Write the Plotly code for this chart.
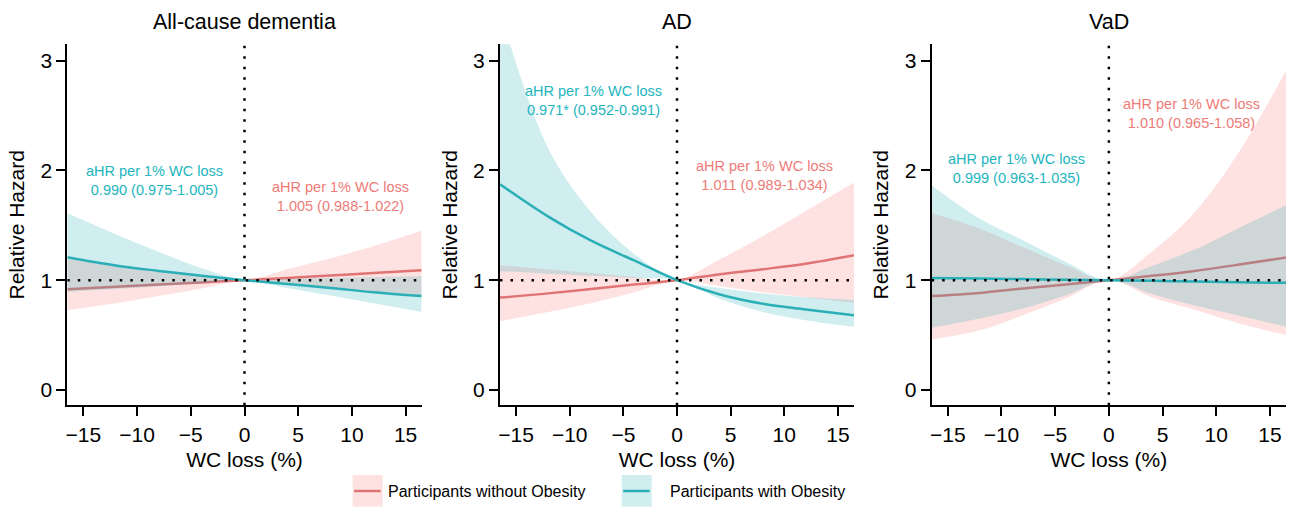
import plotly.graph_objects as go

# ---- data ----
wc_loss = [-16.5, -12, -8, -4, 0, 4, 8, 12, 16.5]

panel_titles = ["All-cause dementia", "AD", "VaD"]

# All-cause dementia
acd_nonob_hr = [0.918, 0.940, 0.960, 0.980, 1.0, 1.020, 1.043, 1.065, 1.090]
acd_nonob_lo = [0.727, 0.790, 0.855, 0.925, 1.0, 0.965, 0.930, 0.895, 0.855]
acd_nonob_hi = [1.190, 1.140, 1.090, 1.045, 1.0, 1.100, 1.200, 1.310, 1.450]
acd_ob_hr = [1.210, 1.135, 1.085, 1.040, 1.0, 0.965, 0.930, 0.890, 0.855]
acd_ob_lo = [0.893, 0.920, 0.945, 0.972, 1.0, 0.930, 0.860, 0.790, 0.710]
acd_ob_hi = [1.610, 1.420, 1.260, 1.110, 1.0, 1.012, 1.022, 1.030, 1.037]

# AD
ad_nonob_hr = [0.842, 0.880, 0.920, 0.960, 1.0, 1.055, 1.100, 1.150, 1.227]
ad_nonob_lo = [0.627, 0.710, 0.790, 0.890, 1.0, 0.945, 0.890, 0.845, 0.794]
ad_nonob_hi = [1.136, 1.100, 1.065, 1.030, 1.0, 1.190, 1.400, 1.630, 1.890]
ad_ob_hr = [1.875, 1.580, 1.360, 1.180, 1.0, 0.870, 0.785, 0.733, 0.680]
ad_ob_lo = [1.082, 1.060, 1.040, 1.020, 1.0, 0.830, 0.710, 0.635, 0.575]
ad_ob_hi = [3.450, 2.200, 1.620, 1.240, 1.0, 0.930, 0.880, 0.845, 0.820]

# VaD
vad_nonob_hr = [0.855, 0.884, 0.924, 0.960, 1.0, 1.040, 1.085, 1.140, 1.207]
vad_nonob_lo = [0.460, 0.544, 0.680, 0.833, 1.0, 0.845, 0.730, 0.610, 0.500]
vad_nonob_hi = [1.610, 1.470, 1.300, 1.137, 1.0, 1.260, 1.620, 2.150, 2.910]
vad_ob_hr = [1.020, 1.015, 1.010, 1.005, 1.0, 0.994, 0.988, 0.982, 0.976]
vad_ob_lo = [0.566, 0.651, 0.742, 0.863, 1.0, 0.875, 0.770, 0.680, 0.575]
vad_ob_hi = [1.864, 1.560, 1.365, 1.167, 1.0, 1.130, 1.280, 1.470, 1.684]

ob_labels = ["aHR per 1% WC loss<br>0.990 (0.975-1.005)",
             "aHR per 1% WC loss<br>0.971* (0.952-0.991)",
             "aHR per 1% WC loss<br>0.999 (0.963-1.035)"]
nonob_labels = ["aHR per 1% WC loss<br>1.005 (0.988-1.022)",
                "aHR per 1% WC loss<br>1.011 (0.989-1.034)",
                "aHR per 1% WC loss<br>1.010 (0.965-1.058)"]
ob_label_pos = [(-8.35, 1.91), (-7.8, 2.64), (-8.6, 2.02)]
nonob_label_pos = [(8.9, 1.76), (8.2, 1.95), (7.7, 2.52)]

legend_names = ["Participants without Obesity", "Participants with Obesity"]

# ---- styles ----
FONT = "Liberation Sans, Arial, Helvetica, sans-serif"
PINK_LINE = "#E07474"
TEAL_LINE = "#2AAFB7"
PINK_FILL = "rgba(248,120,115,0.21)"
TEAL_FILL = "rgba(40,172,186,0.22)"
PINK_TEXT = "#EE7B78"
TEAL_TEXT = "#22B5BE"

W, H = 1291, 507
x_domains = [[67.3 / W, 421.7 / W], [500.0 / W, 854.0 / W], [931.7 / W, 1286.0 / W]]
y_domain = [1 - 405.3 / H, 1 - 44.3 / H]

panels = [
    (acd_nonob_hr, acd_nonob_lo, acd_nonob_hi, acd_ob_hr, acd_ob_lo, acd_ob_hi),
    (ad_nonob_hr, ad_nonob_lo, ad_nonob_hi, ad_ob_hr, ad_ob_lo, ad_ob_hi),
    (vad_nonob_hr, vad_nonob_lo, vad_nonob_hi, vad_ob_hr, vad_ob_lo, vad_ob_hi),
]

fig = go.Figure()
shapes = []
annotations = []

for i, (nhr, nlo, nhi, ohr, olo, ohi) in enumerate(panels):
    xa = "x" if i == 0 else f"x{i+1}"
    ya = "y" if i == 0 else f"y{i+1}"
    common = dict(xaxis=xa, yaxis=ya, showlegend=False, hoverinfo="skip",
                  line_shape="spline")
    # non-obese band + line
    fig.add_trace(go.Scatter(x=wc_loss, y=nlo, mode="lines", line=dict(width=0), **common))
    fig.add_trace(go.Scatter(x=wc_loss, y=nhi, mode="lines", line=dict(width=0),
                             fill="tonexty", fillcolor=PINK_FILL, **common))
    fig.add_trace(go.Scatter(x=wc_loss, y=nhr, mode="lines",
                             line=dict(color=PINK_LINE, width=2.5), **common))
    # obese band + line
    fig.add_trace(go.Scatter(x=wc_loss, y=olo, mode="lines", line=dict(width=0), **common))
    fig.add_trace(go.Scatter(x=wc_loss, y=ohi, mode="lines", line=dict(width=0),
                             fill="tonexty", fillcolor=TEAL_FILL, **common))
    fig.add_trace(go.Scatter(x=wc_loss, y=ohr, mode="lines",
                             line=dict(color=TEAL_LINE, width=2.5), **common))

    axis_common = dict(showline=True, linecolor="black", linewidth=2,
                       ticks="outside", ticklen=9, tickwidth=2, tickcolor="black",
                       showgrid=False, zeroline=False, automargin=False,
                       tickfont=dict(family=FONT, size=21, color="black"))
    fig.layout[f"xaxis{'' if i == 0 else i+1}"] = dict(
        domain=x_domains[i], range=[-16.5, 16.5], anchor=ya,
        tickvals=[-15, -10, -5, 0, 5, 10, 15],
        title=dict(text="WC loss (%)", font=dict(family=FONT, size=21, color="black"), standoff=8),
        **axis_common)
    fig.layout[f"yaxis{'' if i == 0 else i+1}"] = dict(
        domain=y_domain, range=[-0.14, 3.15], anchor=xa,
        tickvals=[0, 1, 2, 3],
        title=dict(text="Relative Hazard", font=dict(family=FONT, size=21, color="black"), standoff=10),
        **axis_common)

    # dotted reference lines
    shapes.append(dict(type="line", xref=xa, yref=f"{ya} domain", x0=0, x1=0, y0=0, y1=1,
                       line=dict(color="black", width=2.5, dash="2.5px,8px"), layer="above"))
    shapes.append(dict(type="line", xref=f"{xa} domain", yref=ya, x0=0, x1=1, y0=1, y1=1,
                       line=dict(color="black", width=2.5, dash="2.5px,8px"), layer="above"))

    # panel title
    annotations.append(dict(text=panel_titles[i], xref="paper", yref="paper",
                            x=sum(x_domains[i]) / 2, y=1 - 21.7 / H, xanchor="center",
                            yanchor="middle", showarrow=False,
                            font=dict(family=FONT, size=21.5, color="black")))
    # aHR labels
    annotations.append(dict(text=ob_labels[i], xref=xa, yref=ya,
                            x=ob_label_pos[i][0], y=ob_label_pos[i][1],
                            xanchor="center", yanchor="middle", showarrow=False,
                            font=dict(family=FONT, size=14.5, color=TEAL_TEXT)))
    annotations.append(dict(text=nonob_labels[i], xref=xa, yref=ya,
                            x=nonob_label_pos[i][0], y=nonob_label_pos[i][1],
                            xanchor="center", yanchor="middle", showarrow=False,
                            font=dict(family=FONT, size=14.5, color=PINK_TEXT)))

# manual legend
leg_items = [
    (legend_names[0], 352.7, PINK_FILL, PINK_LINE, 386.0),
    (legend_names[1], 621.7, TEAL_FILL, TEAL_LINE, 668.3),
]
for name, x0px, fill, line, tx in leg_items:
    shapes.append(dict(type="rect", xref="paper", yref="paper",
                       x0=x0px / W, x1=(x0px + 30) / W, y0=1 - 506.7 / H, y1=1 - 475 / H,
                       fillcolor=fill, line=dict(width=0)))
    shapes.append(dict(type="line", xref="paper", yref="paper",
                       x0=(x0px + 1.5) / W, x1=(x0px + 28) / W,
                       y0=1 - 491 / H, y1=1 - 491 / H, line=dict(color=line, width=2.5)))
    annotations.append(dict(text=name, xref="paper", yref="paper", x=tx / W, y=1 - 491.5 / H,
                            xanchor="left", yanchor="middle", showarrow=False,
                            font=dict(family=FONT, size=16, color="black")))

fig.update_layout(
    width=W, height=H,
    margin=dict(l=0, r=0, t=0, b=0, autoexpand=False),
    paper_bgcolor="white", plot_bgcolor="white",
    shapes=shapes, annotations=annotations,
    showlegend=False,
    font=dict(family=FONT),
)

fig.write_html(
    "out.html",
    config={"displayModeBar": False},
    post_script="document.body.style.margin='0px';document.body.style.overflow='hidden';",
)
